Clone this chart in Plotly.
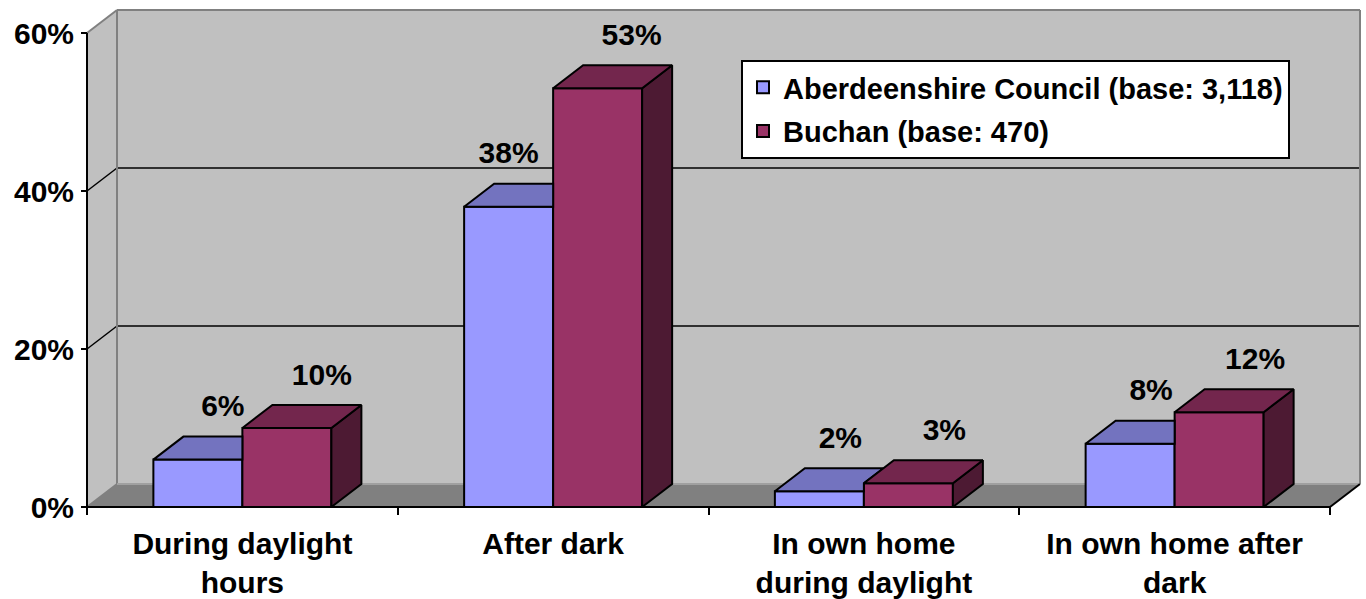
import plotly.graph_objects as go

# ---------------- data ----------------
categories = ["During daylight<br>hours", "After dark",
              "In own home<br>during daylight", "In own home after<br>dark"]
series_names = ["Aberdeenshire Council (base: 3,118)", "Buchan (base: 470)"]
aberdeenshire = [6, 38, 2, 8]
buchan = [10, 53, 3, 12]
y_tick_values = [0, 20, 40, 60]
y_tick_labels = ["0%", "20%", "40%", "60%"]

# ---------------- style / geometry ----------------
FONT = "Liberation Sans, Arial, sans-serif"
FS_AXIS = 30
FS_LEG = 29
FS_LAB = 30
FRONT = ["#9999FF", "#993366"]
TOP = ["#7373BF", "#73264D"]
SIDE = ["#4D4D80", "#4D1A33"]
WALL = "#C0C0C0"
FLOOR = "#808080"
EDGE = "#808080"

W, H = 1366, 599
AX_PX = 87          # pixel x of front value axis
BASE_PX = 507       # pixel y of 0%
ML, MR, MT, MB = 81, 2, 8, 84
PXC = (1330 - AX_PX) / 4.0      # pixels per category
PXY = (BASE_PX - 33) / 60.0      # pixels per percent
X0 = -0.5
XEND = 3.5
XMIN = X0 - (AX_PX - ML) / PXC
XMAX = X0 + (W - MR - AX_PX) / PXC
YMIN = -((H - MB) - BASE_PX) / PXY
YMAX = (BASE_PX - MT) / PXY
DX = 30 / PXC
DY = 23 / PXY
BW = 89 / PXC
YTOP = 60
LABEL_RAISE = 51 / PXY
label_nudge_px = [[25, 0, 21, 21], [35, 34, 36, 36]]

fig = go.Figure()

# ---------------- walls, floor, gridlines (shapes under the bars) ----------------
shapes = []
def path(pts):
    return "M " + " L ".join(f"{x},{y}" for x, y in pts) + " Z"

shapes.append(dict(type="path", layer="below", xref="x", yref="y",
                   path=path([(X0, 0), (X0 + DX, DY), (X0 + DX, YTOP + DY), (X0, YTOP)]),
                   fillcolor=WALL, line=dict(width=0)))
shapes.append(dict(type="rect", layer="below", xref="x", yref="y",
                   x0=X0 + DX, x1=XEND + DX, y0=DY, y1=YTOP + DY,
                   fillcolor=WALL, line=dict(width=0)))
shapes.append(dict(type="path", layer="below", xref="x", yref="y",
                   path=path([(X0, 0), (XEND, 0), (XEND + DX, DY), (X0 + DX, DY)]),
                   fillcolor=FLOOR, line=dict(width=0)))
for v in y_tick_values[1:-1]:
    shapes.append(dict(type="line", layer="below", xref="x", yref="y",
                       x0=X0 + DX, x1=XEND + DX, y0=v + DY, y1=v + DY,
                       line=dict(color="black", width=1.5)))
    shapes.append(dict(type="line", layer="below", xref="x", yref="y",
                       x0=X0, x1=X0 + DX, y0=v, y1=v + DY,
                       line=dict(color="black", width=1.5)))
# wall edges
for (xa, ya, xb, yb, col) in [
    (X0 + DX, DY, X0 + DX, YTOP + DY, EDGE),
    (X0 + DX, YTOP + DY, XEND + DX, YTOP + DY, EDGE),
    (XEND + DX, DY, XEND + DX, YTOP + DY, EDGE),
    (X0, YTOP, X0 + DX, YTOP + DY, EDGE),
    (X0, 0, X0 + DX, DY, EDGE),
    (X0 + DX, DY, XEND + DX, DY, "#A0A0A0"),
    (XEND, 0, XEND + DX, DY, "black"),
    (X0, 0, X0, YTOP, "black"),
    (X0, 0, XEND, 0, "black"),
]:
    shapes.append(dict(type="line", layer="below", xref="x", yref="y",
                       x0=xa, x1=xb, y0=ya, y1=yb, line=dict(color=col, width=2)))

# ---------------- front faces (bars) ----------------
xs = list(range(len(categories)))
series = [aberdeenshire, buchan]
offsets = [-BW, 0.0]
for s, vals in enumerate(series):
    fig.add_trace(go.Bar(
        x=xs, y=vals, width=BW, offset=offsets[s], base=0,
        name=series_names[s], legendgroup=f"g{s}",
        marker=dict(color=FRONT[s], line=dict(color="black", width=2)),
        hoverinfo="skip"))

# ---------------- top and side faces (polygons from the values) ----------------
def poly_trace(polys, color):
    px, py = [], []
    for p in polys:
        for (a, b) in p + [p[0]]:
            px.append(a); py.append(b)
        px.append(None); py.append(None)
    return go.Scatter(x=px, y=py, mode="lines", fill="toself", fillcolor=color,
                      line=dict(color="black", width=2), showlegend=False,
                      hoverinfo="skip")

# first series faces, clipped where the second series' bar is in front
blue_tops, blue_sides = [], []
for i, (h, r) in enumerate(zip(aberdeenshire, buchan)):
    x0 = i - BW
    x1 = i
    if r >= h:
        pts = [(x0, h), (x1, h), (x1, min(r, h + DY))]
        if r < h + DY:
            pts.append((x1 + (h + DY - r) * DX / DY, h + DY))
        pts.append((x0 + DX, h + DY))
        blue_tops.append(pts)
    else:
        blue_sides.append([(x1, 0), (x1 + DX, DY), (x1 + DX, h + DY), (x1, h)])
        blue_tops.append([(x0, h), (x1, h), (x1 + DX, h + DY), (x0 + DX, h + DY)])
if blue_sides:
    fig.add_trace(poly_trace(blue_sides, SIDE[0]))
fig.add_trace(poly_trace(blue_tops, TOP[0]))

red_tops, red_sides = [], []
for i, r in enumerate(buchan):
    x0 = i
    x1 = i + BW
    red_sides.append([(x1, 0), (x1 + DX, DY), (x1 + DX, r + DY), (x1, r)])
    red_tops.append([(x0, r), (x1, r), (x1 + DX, r + DY), (x0 + DX, r + DY)])
fig.add_trace(poly_trace(red_sides, SIDE[1]))
fig.add_trace(poly_trace(red_tops, TOP[1]))

# ---------------- data labels ----------------
for s, vals in enumerate(series):
    lx = [i + offsets[s] + BW / 2 + label_nudge_px[s][i] / PXC for i in xs]
    ly = [v + LABEL_RAISE for v in vals]
    fig.add_trace(go.Scatter(
        x=lx, y=ly, mode="text", text=[f"{v}%" for v in vals],
        textposition="middle center", cliponaxis=False, showlegend=False,
        textfont=dict(family=FONT, size=FS_LAB, color="black", weight="bold"),
        hoverinfo="skip"))

# ---------------- layout ----------------
fig.update_layout(
    width=W, height=H,
    margin=dict(l=ML, r=MR, t=MT, b=MB, autoexpand=False),
    paper_bgcolor="white", plot_bgcolor="white",
    barmode="overlay",
    shapes=shapes,
    showlegend=True,
    legend=dict(
        x=(741 - ML) / (W - ML - MR), y=((H - MB) - 60) / (H - MT - MB),
        xanchor="left", yanchor="top",
        bgcolor="white", bordercolor="black", borderwidth=2,
        font=dict(family=FONT, size=FS_LEG, color="black", weight="bold"),
        traceorder="grouped", tracegroupgap=3, itemwidth=30),
    xaxis=dict(
        range=[XMIN, XMAX], tickmode="array", tickvals=xs, ticktext=categories,
        ticks="", showgrid=False, zeroline=False, showline=False,
        tickfont=dict(family=FONT, size=FS_AXIS, color="black", weight="bold"),
        ticklabelstandoff=8, fixedrange=True),
    xaxis2=dict(
        overlaying="x", anchor="y", side="bottom", range=[XMIN, XMAX],
        tickmode="array", tickvals=[X0 + k for k in range(5)],
        ticktext=["" for _ in range(5)], ticks="inside", ticklen=(H - MB) - BASE_PX,
        tickwidth=2, tickcolor="black", showgrid=False, zeroline=False,
        showline=False, showticklabels=False),
    yaxis=dict(
        range=[YMIN, YMAX], tickmode="array", tickvals=y_tick_values,
        ticktext=y_tick_labels, ticks="inside", ticklen=AX_PX - ML, tickwidth=2,
        tickcolor="black", showgrid=False, zeroline=False, showline=False,
        tickfont=dict(family=FONT, size=FS_AXIS, color="black", weight="bold"),
        ticklabelstandoff=6, fixedrange=True),
)
fig.add_trace(go.Scatter(x=[X0], y=[0], xaxis="x2", yaxis="y", mode="markers",
                         marker=dict(opacity=0), showlegend=False, hoverinfo="skip"))

fig.write_html("out.html", config={"displayModeBar": False},
               post_script="document.body.style.margin='0px';document.body.style.overflow='hidden';")
